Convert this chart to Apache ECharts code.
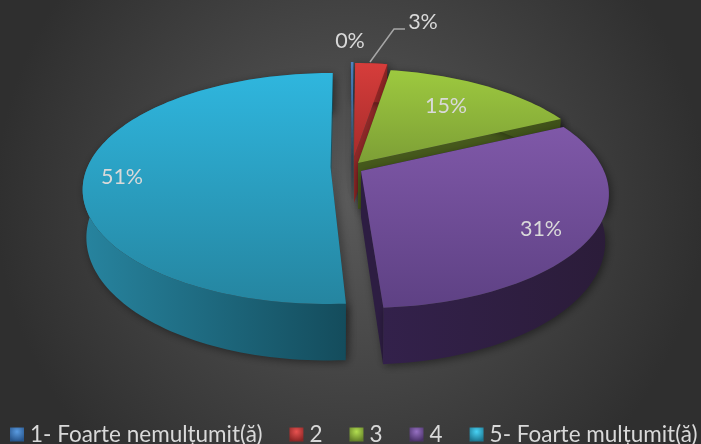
<!DOCTYPE html>
<html>
<head>
<meta charset="utf-8">
<style>
  html, body { margin: 0; padding: 0; background: #333; }
  #chart { width: 701px; height: 444px; }
</style>
<script src="https://cdn.jsdelivr.net/npm/echarts@6/dist/echarts.min.js"></script>
</head>
<body>
<div id="chart"></div>
<script>
// survey answers, percent of respondents
var categories = ['1- Foarte nemulțumit(ă)', '2', '3', '4', '5- Foarte mulțumit(ă)']
var values = [0.2, 2.5, 15.3, 31, 51]

// look of each slice
var topColors = [['#4f86c4', '#3a6ea5'], ['#d63d3b', '#a82c2b'], ['#9dc93f', '#7d9f36'], ['#7f58a8', '#5e4184'], ['#2fb6de', '#2585a0']]
var wallColors = [['#2b4d75', '#24405f'], ['#a12b2a', '#8a2423'], ['#4c6120', '#3f5119'], ['#33214b', '#2b1c39'], ['#27849f', '#144c5c']]
var sideColors = ['#24405f', '#8f2928', '#46591c', '#2d1d42', '#175565']
var legendColors = [['#5a9be0', '#27558c'], ['#e85250', '#8a2524'], ['#b2de50', '#637f28'], ['#9670c2', '#4a3269'], ['#48d2f4', '#1c7690']]
// how far each slice is pulled out of the pie centre
var explode = [[7, -9], [9, -8], [13, -2], [16, 6], [-14.5, 2]]
// label place, relative to the tip of its slice
var labelOffsets = [[-2, -115], [69, -135], [88, -57], [180, 58], [-208.5, 10]]

var centerX = 345
var centerY = 165
var radiusX = 243
var radiusY = 111.5
var perspective = 0.186
var depth = 46

function project(deg, off) {
  var a = deg * Math.PI / 180
  var u = Math.sin(a)
  var v = -Math.cos(a)
  var w = 1 - perspective * v
  return { x: centerX + (off[0] + u * radiusX) / w, y: centerY + off[1] + v * radiusY / w, w: w }
}

function lower(p, cx) {
  return [cx + (p.x - cx) * 0.985, p.y + depth / p.w]
}

function gradient(x2, y2, pair) {
  return new echarts.graphic.LinearGradient(0, 0, x2, y2, [
    { offset: 0, color: pair[0] },
    { offset: 1, color: pair[1] }
  ])
}

function bevel(pair) {
  return new echarts.graphic.RadialGradient(0.5, 0.3, 0.7, [
    { offset: 0, color: pair[0] },
    { offset: 1, color: pair[1] }
  ])
}

function sliceRender(index, startDeg, endDeg) {
  return function() {
    var cx = centerX + explode[index][0]
    var cy = centerY + explode[index][1]
    var arc = []
    var n = Math.max(2, Math.ceil((endDeg - startDeg) / 1.5))
    for (var i = 0; i <= n; i++) {
      arc.push(project(startDeg + (endDeg - startDeg) * i / n, explode[index]))
    }
    var first = arc[0]
    var last = arc[arc.length - 1]
    var apexLow = [cx, cy + depth]

    var topPts = [[cx, cy]].concat(arc.map(function(p) { return [p.x, p.y] }))
    var rimPts = arc.map(function(p) { return [p.x, p.y] })
      .concat(arc.slice().reverse().map(function(p) { return lower(p, cx) }))
    var shadow = { shadowBlur: 8, shadowColor: 'rgba(0,0,0,0.45)', shadowOffsetX: 2, shadowOffsetY: 2 }

    var children = [
      {
        type: 'polygon',
        shape: { points: [[cx, cy], [first.x, first.y], lower(first, cx), apexLow] },
        style: Object.assign({ fill: sideColors[index] }, shadow)
      },
      {
        type: 'polygon',
        shape: { points: [[cx, cy], [last.x, last.y], lower(last, cx), apexLow] },
        style: Object.assign({ fill: sideColors[index] }, shadow)
      },
      {
        type: 'polygon',
        shape: { points: rimPts },
        style: Object.assign({ fill: gradient(1, 0, wallColors[index]) }, shadow)
      },
      {
        type: 'polygon',
        shape: { points: topPts },
        style: { fill: gradient(0, 1, topColors[index]) }
      },
      {
        type: 'text',
        style: {
          x: cx + labelOffsets[index][0],
          y: cy + labelOffsets[index][1],
          text: Math.round(values[index]) + '%',
          fill: '#d9d9d9',
          font: '21.5px Lato',
          align: 'center',
          verticalAlign: 'middle'
        }
      }
    ]

    // only the small red slice has a leader line
    if (index === 1) {
      children.push({
        type: 'polyline',
        shape: { points: [[cx + 16, cy - 95], [cx + 40, cy - 128], [cx + 51, cy - 128]] },
        style: { stroke: '#a6a6a6', lineWidth: 1.5, fill: null }
      })
    }
    return { type: 'group', children: children }
  }
}

var series = []
var sum = 0
for (var i = 0; i < values.length; i++) {
  var start = sum / 100 * 360
  sum += values[i]
  series.push({
    name: categories[i],
    type: 'custom',
    coordinateSystem: 'none',
    silent: true,
    z: 2 + i,
    itemStyle: { color: bevel(legendColors[i]) },
    data: [values[i]],
    renderItem: sliceRender(i, start, sum / 100 * 360)
  })
}

var chart = echarts.init(document.getElementById('chart'))
chart.setOption({
  animation: false,
  backgroundColor: new echarts.graphic.RadialGradient(0.5, 0.45, 0.8, [
    { offset: 0, color: '#5a5a5a' },
    { offset: 1, color: '#2f2f2f' }
  ]),
  legend: {
    left: 10,
    top: 423,
    width: 800,
    padding: 0,
    icon: 'rect',
    itemWidth: 14,
    itemHeight: 14,
    itemGap: 27,
    textStyle: { color: '#d9d9d9', fontFamily: 'Lato', fontSize: 22.5, padding: [2, 0, 0, 1] },
    data: categories
  },
  series: series
})
</script>
</body>
</html>
